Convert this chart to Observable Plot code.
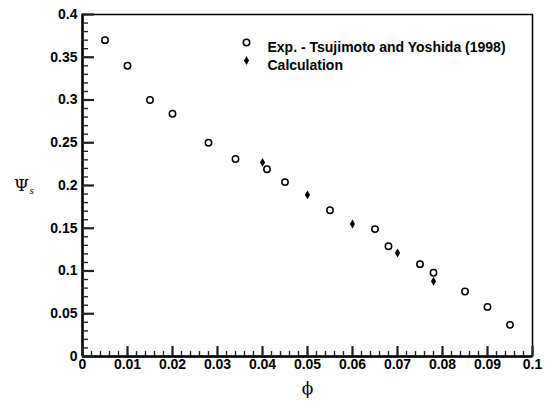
<!DOCTYPE html>
<html><head><meta charset="utf-8">
<script src="https://cdn.jsdelivr.net/npm/d3@7"></script>
<script src="https://cdn.jsdelivr.net/npm/@observablehq/plot@0.6"></script>
<style>body{margin:0;background:#fff}</style>
</head><body><div id="chart"></div>
<script>
const expPhi = [0.005, 0.010, 0.015, 0.020, 0.028, 0.034, 0.041, 0.045, 0.055, 0.065, 0.068, 0.075, 0.078, 0.085, 0.090, 0.095];
const expPsi = [0.370, 0.340, 0.300, 0.284, 0.250, 0.231, 0.219, 0.204, 0.171, 0.149, 0.129, 0.108, 0.098, 0.076, 0.058, 0.037];
const calcPhi = [0.040, 0.050, 0.060, 0.070, 0.078];
const calcPsi = [0.227, 0.189, 0.155, 0.121, 0.088];
const xTicks = [0, 0.01, 0.02, 0.03, 0.04, 0.05, 0.06, 0.07, 0.08, 0.09, 0.1];
const yTicks = [0, 0.05, 0.1, 0.15, 0.2, 0.25, 0.3, 0.35, 0.4];
const xMinor = d3.ticks(0, 0.1, 50);
const yMinor = d3.ticks(0, 0.4, 40);
const legendLabels = ["Exp. - Tsujimoto and Yoshida (1998)", "Calculation"];

const expData = expPhi.map((x, i) => ({x, y: expPsi[i]}));
const calcData = calcPhi.map((x, i) => ({x, y: calcPsi[i]}));
const fmt = d => String(+d.toFixed(3));

const W = 546, H = 406, mL = 82, mR = 14, mT = 14, mB = 50;
const fw = W - mL - mR, fh = H - mT - mB;

const chart = Plot.plot({
  width: W, height: H,
  marginLeft: mL, marginRight: mR, marginTop: mT, marginBottom: mB,
  style: "font-family: 'Liberation Sans', Arial, sans-serif; background: #fff; color: #000;",
  x: {domain: [0, 0.1]},
  y: {domain: [0, 0.4]},
  marks: [
    Plot.frame({stroke: "#000", strokeWidth: 1.5}),
    Plot.ruleY([0], {stroke: "#000", strokeWidth: 2.5}),
    Plot.ruleX([0], {stroke: "#000", strokeWidth: 2.5}),
    Plot.axisY(yTicks, {anchor: "left", tickSize: 0, tickPadding: 5, tickFormat: fmt, label: null, fontSize: 14, fontWeight: "bold", fill: "#000"}),
    Plot.axisX(xTicks, {anchor: "bottom", tickSize: 0, tickPadding: 3, tickFormat: fmt, label: null, fontSize: 14, fontWeight: "bold", fill: "#000"}),
    Plot.dot(expData, {x: "x", y: "y", r: 3.2, stroke: "#000", strokeWidth: 1.5, fill: "#fff"}),
    Plot.dot(calcData, {x: "x", y: "y", symbol: "diamond", r: 2.7, fill: "#000", stroke: "none"}),
    Plot.dot([legendLabels[0]], {frameAnchor: "top-left", dx: 164, dy: 28, r: 3.2, stroke: "#000", strokeWidth: 1.5, fill: "#fff"}),
    Plot.dot([legendLabels[1]], {frameAnchor: "top-left", dx: 164, dy: 46, symbol: "diamond", r: 2.7, fill: "#000"}),
    Plot.text([legendLabels[0]], {frameAnchor: "top-left", dx: 185, dy: 28, text: d => d, textAnchor: "start", fontSize: 14, fontWeight: "bold", fill: "#000"}),
    Plot.text([legendLabels[1]], {frameAnchor: "top-left", dx: 185, dy: 46, text: d => d, textAnchor: "start", fontSize: 14, fontWeight: "bold", fill: "#000"}),
    Plot.text(["ϕ"], {frameAnchor: "bottom", dy: 37, text: d => d, textAnchor: "middle", fontSize: 17, fontFamily: "DejaVu Serif, serif", fill: "#000"}),
    Plot.text(["Ψ"], {frameAnchor: "left", dx: -61, text: d => d, textAnchor: "middle", fontSize: 17, fontFamily: "DejaVu Serif, serif", fill: "#000"}),
    Plot.text(["s"], {frameAnchor: "left", dx: -53, dy: 5, text: d => d, textAnchor: "start", fontSize: 11, fontStyle: "italic", fontFamily: "Liberation Serif, serif", fill: "#000"}),
    Plot.ruleY(yMinor, {y: d => d, insetRight: fw - 6, stroke: "#222", strokeWidth: 1.4}),
    Plot.ruleY(yTicks, {y: d => d, insetRight: fw - 12, stroke: "#222", strokeWidth: 2.2}),
    Plot.ruleX(xMinor, {x: d => d, insetTop: fh - 5, stroke: "#222", strokeWidth: 1.4}),
    Plot.ruleX(xTicks, {x: d => d, insetTop: fh - 10, stroke: "#222", strokeWidth: 2.2})
  ]
});
document.getElementById("chart").appendChild(chart);
</script>
</body></html>
